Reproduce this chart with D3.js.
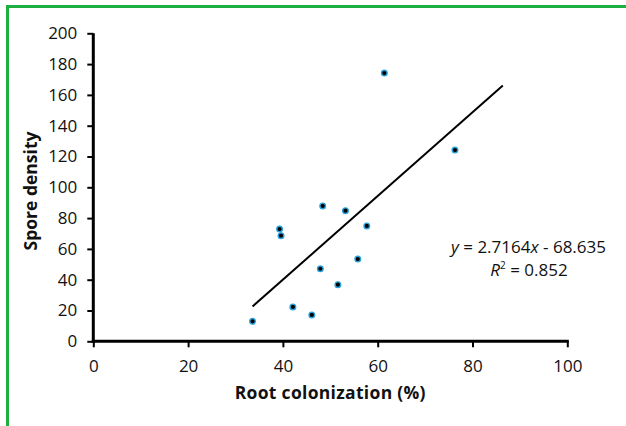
<!DOCTYPE html>
<html>
<head>
<meta charset="utf-8">
<script src="https://cdn.jsdelivr.net/npm/d3@7"></script>
<style>
html,body{margin:0;padding:0;background:#fff;}
svg{display:block;}
text{font-family:"Open Sans","Noto Sans",sans-serif;fill:#111;}
</style>
</head>
<body>
<svg id="chart" width="626" height="426"></svg>
<script>
// Data
const rootColonization = [33.6, 39.3, 39.6, 42.1, 46.1, 47.9, 48.4, 51.6, 53.2, 55.8, 57.7, 61.4, 76.3];
const sporeDensity     = [13.0, 72.9, 68.6, 22.3, 17.1, 47.1, 87.9, 36.8, 84.8, 53.4, 74.9, 174.2, 124.2];
const xTicks = [0, 20, 40, 60, 80, 100];
const yTicks = [0, 20, 40, 60, 80, 100, 120, 140, 160, 180, 200];
const slope = 2.7164, intercept = -68.635, r2 = 0.852;
const trendRange = [33.6, 86.4];

const svg = d3.select("#chart");
const W = 626, H = 426;

// green frame (top and left)
svg.append("line").attr("x1",7.5).attr("x2",W).attr("y1",6.5).attr("y2",6.5)
  .attr("stroke","#1db040").attr("stroke-width",3);
svg.append("line").attr("x1",7.5).attr("x2",7.5).attr("y1",5).attr("y2",H)
  .attr("stroke","#1db040").attr("stroke-width",3);

const x = d3.scaleLinear().domain([0,100]).range([93.3,567.3]);
const y = d3.scaleLinear().domain([0,200]).range([341.3,33.3]);

// axes
const xAxis = svg.append("g").attr("transform",`translate(0,${y(0)})`)
  .call(d3.axisBottom(x).tickValues(xTicks).tickSize(6).tickPadding(10).tickSizeOuter(0));
const yAxis = svg.append("g").attr("transform",`translate(${x(0)},0)`)
  .call(d3.axisLeft(y).tickValues(yTicks).tickSize(6).tickPadding(10).tickSizeOuter(0));
[xAxis,yAxis].forEach(g=>{
  g.select(".domain").attr("stroke","#000").attr("stroke-width",3);
  g.selectAll(".tick line").attr("stroke","#000").attr("stroke-width",2);
  g.selectAll(".tick text").attr("font-size",17).attr("fill","#111")
    .attr("font-family",'"Open Sans","Noto Sans",sans-serif');
});
xAxis.select(".domain").attr("d",`M${x(0)-1.5},0H${x(100)+1.5}`);
yAxis.select(".domain").attr("d",`M0,${y(200)}V${y(0)+1.5}`);
xAxis.selectAll(".tick text").attr("dy","0.85em");

// trend line
svg.append("line")
  .attr("x1",x(trendRange[0])).attr("y1",y(slope*trendRange[0]+intercept))
  .attr("x2",x(trendRange[1])).attr("y2",y(slope*trendRange[1]+intercept))
  .attr("stroke","#000").attr("stroke-width",2);

// points
svg.append("g").selectAll("circle")
  .data(rootColonization.map((v,i)=>[v,sporeDensity[i]]))
  .join("circle")
  .attr("cx",d=>x(d[0])).attr("cy",d=>y(d[1])).attr("r",2.8)
  .attr("fill","#000").attr("stroke","#29a3dc").attr("stroke-width",1.4);

// axis titles
svg.append("text").attr("x",(x(0)+x(100))/2).attr("y",399)
  .attr("text-anchor","middle").attr("font-size",17.5).attr("font-weight","bold")
  .attr("letter-spacing",0.3)
  .text("Root colonization (%)");
svg.append("text").attr("transform","translate(37,191) rotate(-90)")
  .attr("text-anchor","middle").attr("font-size",17.5).attr("font-weight","bold")
  .text("Spore density");

// equation
const eq = svg.append("text").attr("x",606).attr("y",253).attr("text-anchor","end").attr("font-size",17);
eq.append("tspan").attr("font-style","italic").text("y");
eq.append("tspan").text(" = " + slope + "");
eq.append("tspan").attr("font-style","italic").text("x");
eq.append("tspan").text(" - " + Math.abs(intercept).toFixed(3));

const rt = svg.append("text").attr("x",529).attr("y",276).attr("text-anchor","middle").attr("font-size",17);
rt.append("tspan").attr("font-style","italic").text("R");
rt.append("tspan").attr("font-size",10).attr("dy",-7).text("2");
rt.append("tspan").attr("dy",7).text(" = " + r2);
</script>
</body>
</html>
